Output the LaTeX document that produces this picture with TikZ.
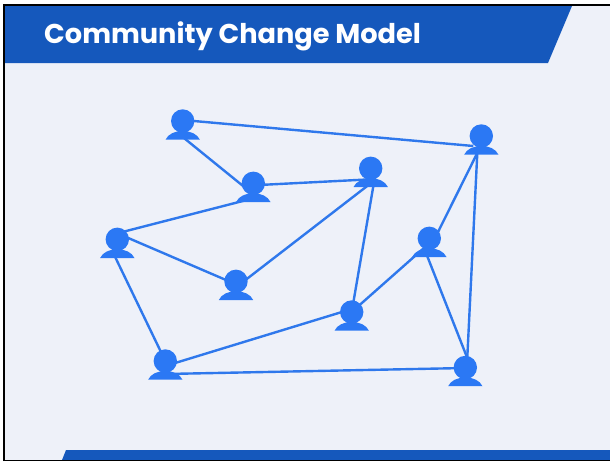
\documentclass[tikz,border=0pt]{standalone}
\usepackage{fontspec}
\setmainfont{Poppins}
\usetikzlibrary{calc}
\definecolor{bg}{HTML}{EEF1F9}
\definecolor{band}{HTML}{1558BC}
\definecolor{person}{HTML}{2B78F4}
\definecolor{link}{HTML}{2F78EC}
\tikzset{
  head/.style={circle,fill=person,minimum size=23.4pt,inner sep=0pt,outer sep=0pt},
  conn/.style={draw=link,line width=2.4pt},
  pics/person/.style={code={
    \fill[person] (-17.2,18.7) .. controls (-14.5,13) and (-8,10) .. (0,10) .. controls (8,10) and (14.5,13) .. (17.2,18.7) -- cycle;
  }}
}
\begin{document}
\begin{tikzpicture}[x=1pt,y=-1pt]
\useasboundingbox (0,0) rectangle (610,461);
\fill[white] (0,0) rectangle (610,461);
\fill[bg] (4,5) rectangle (610,460);
\fill[band] (5,6) -- (572,6) -- (548,63) -- (5,63) -- cycle;
\fill[band] (66,450) -- (610,450) -- (610,460) -- (62,460) -- cycle;
\draw[black,line width=2.2pt] (4.2,461) -- (4.2,5.3) -- (610,5.3);
\draw[black,line width=1pt] (4,460) -- (610,460);
\node[font=\fontsize{27.2}{30}\selectfont\bfseries,text=white,anchor=base west,inner sep=0pt] (title) at (44,43) {Community Change Model};
\foreach \n/\x/\y in {A/182.7/121,B/253.3/183.3,C/370.7/168.3,D/481.3/136,E/429.3/238.3,F/117.3/239.3,G/236/281.3,H/351.7/312,I/165.3/361,J/465.3/367.5}{
  \coordinate (\n) at (\x,\y);
}
\draw[conn] ($(A)+(0,-1)$) -- ($(D)+(-8,10)$);
\draw[conn] ($(A)+(0,16)$) -- ($(B)+(0,11)$);
\draw[conn] ($(B)+(0,2)$) -- ($(C)+(0,11)$);
\draw[conn] ($(B)+(0,15)$) -- ($(F)+(0,-6)$);
\draw[conn] ($(C)+(0,15)$) -- ($(G)+(0,6)$);
\draw[conn] ($(C)+(2.6,18)$) -- (H);
\draw[conn] ($(D)+(-4,17)$) -- ($(E)+(5.6,0)$);
\draw[conn] ($(D)+(-4,17)$) -- ($(J)+(1.5,0)$);
\draw[conn] ($(E)+(0,5)$) -- (H);
\draw[conn] ($(E)+(-2,18)$) -- ($(J)+(1.4,-11)$);
\draw[conn] ($(F)+(0,-6)$) -- ($(G)+(0,3)$);
\draw[conn] ($(F)+(-2,18)$) -- (I);
\draw[conn] ($(I)+(0,5)$) -- ($(H)+(0,-3)$);
\draw[conn] ($(I)+(0,13)$) -- ($(J)+(0,0.5)$);
\foreach \n in {A,B,C,D,E,F,G,H,I,J}{
  \node[head] (\n h) at (\n) {};
  \pic at (\n) {person};
}
\end{tikzpicture}
\end{document}
